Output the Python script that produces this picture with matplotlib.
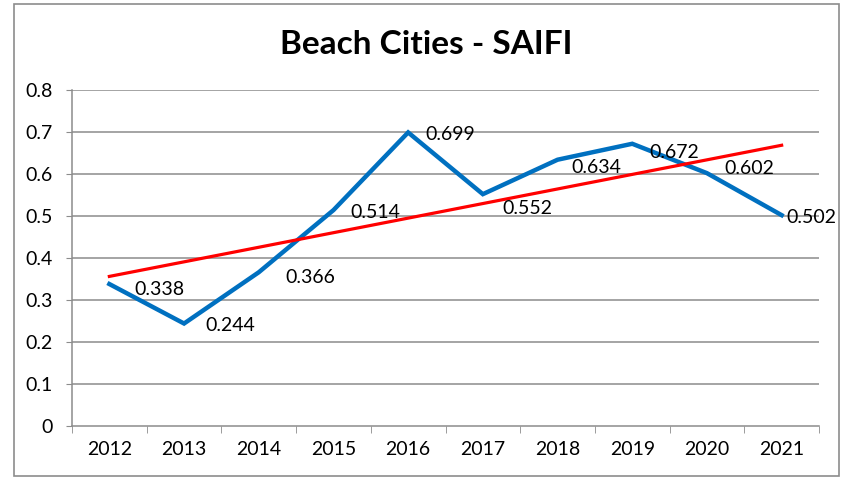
import matplotlib
matplotlib.use("Agg")
import matplotlib.pyplot as plt
import numpy as np
from matplotlib.patches import Rectangle

years = ["2012", "2013", "2014", "2015", "2016", "2017", "2018", "2019", "2020", "2021"]
saifi = [0.338, 0.244, 0.366, 0.514, 0.699, 0.552, 0.634, 0.672, 0.602, 0.502]
title = "Beach Cities - SAIFI"
yticks = [0, 0.1, 0.2, 0.3, 0.4, 0.5, 0.6, 0.7, 0.8]

# label offsets in pixels (dx right, dy down) - layout only
label_dx = [25, 21, 27, 17, 17, 20, 14, 17, 17, 5]
label_dy = [5, 2, 5, 2, 2, 14, 8, 9, -5, 2]

plt.rcParams['font.family'] = ['Lato', 'DejaVu Sans']

W, H = 842, 478
fig = plt.figure(figsize=(W / 100, H / 100), dpi=100)
fig.patch.set_facecolor("white")

# chart border
fig.patches.append(Rectangle((14 / W, 2 / H), 825 / W, 472 / H, transform=fig.transFigure,
                             fill=False, edgecolor="#8c8c8c", linewidth=1.2))

ax = fig.add_axes([72 / W, (H - 426) / H, (819 - 72) / W, (426 - 90) / H])
x = np.arange(len(years))
ax.set_xlim(-0.5, len(years) - 0.5)
ax.set_ylim(0, 0.8)

for yv in yticks[1:]:
    ax.axhline(yv, color="#8c8c8c", linewidth=1.1, zorder=1)

ax.plot(x, saifi, color="#0070C0", linewidth=3.2, zorder=3, solid_joinstyle="miter")

coef = np.polyfit(x, saifi, 1)
trend = np.polyval(coef, x)
ax.plot(x, trend, color="#FF0000", linewidth=2.3, zorder=4)

for i, v in enumerate(saifi):
    ax.annotate(f"{v:.3f}", xy=(x[i], v), xytext=(label_dx[i] * 0.72, -label_dy[i] * 0.72),
                textcoords="offset points", ha="left", va="center", fontsize=14,
                color="black", zorder=5)

for s in ["top", "right"]:
    ax.spines[s].set_visible(False)
ax.spines["left"].set_color("#8c8c8c")
ax.spines["bottom"].set_color("#8c8c8c")
ax.spines["left"].set_linewidth(1.1)
ax.spines["bottom"].set_linewidth(1.1)

ax.set_yticks(yticks)
ax.set_yticklabels(["0" if t == 0 else f"{t:.1f}" for t in yticks], fontsize=14)
ax.tick_params(axis="y", length=4, color="#8c8c8c", pad=10)

ax.set_xticks(x)
ax.set_xticklabels(years, fontsize=14)
ax.tick_params(axis="x", length=0, pad=11)
ax.set_xticks(np.arange(-0.5, len(years), 1.0), minor=True)
ax.tick_params(axis="x", which="minor", length=5, color="#8c8c8c")

fig.text(426 / W, 1 - 45 / H, title, ha="center", va="center", fontsize=24, fontweight="bold")

fig.savefig("out.png", dpi=100)
